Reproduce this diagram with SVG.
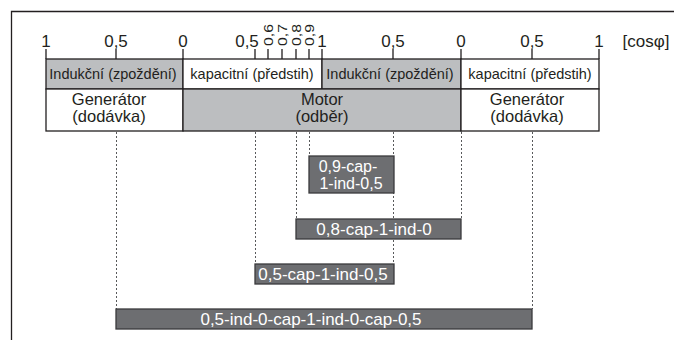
<svg xmlns="http://www.w3.org/2000/svg" width="674" height="340" viewBox="0 0 674 340">
<style>
text{font-family:"Liberation Sans",Arial,sans-serif;fill:#231f20}
.ax{font-size:17px;text-anchor:middle}
.sm{font-size:13px}
.r1{font-size:14.5px;text-anchor:middle}
.r2{font-size:16.5px;text-anchor:middle}
.cell{stroke:#231f20;stroke-width:1.3}
.g{fill:#bcbec0}
.w{fill:#fff}
.bx{fill:#6d6e71;stroke:#3a3a3c;stroke-width:1.3}
.bt{font-size:17px;text-anchor:middle;fill:#fff}
.bt2{font-size:16px;text-anchor:middle;fill:#fff}
.tk{stroke:#231f20;stroke-width:1.3}
.dl{stroke:#58595b;stroke-width:1;stroke-dasharray:2 2;fill:none}
</style>
<rect width="674" height="340" fill="#fff"/>
<path d="M11.5 340V11.5H674" fill="none" stroke="#231f20" stroke-width="1.3"/>
<g id="axis">
<path class="tk" d="M46 49V59M116 49V59M183 49V59M255 49V59M268 49V59M282 49V59M296 49V59M309 49V59M322 49V59M393 49V59M461 49V59M532 49V59M599 49V59"/>
<text class="ax" x="46" y="47">1</text>
<text class="ax" x="116" y="47">0,5</text>
<text class="ax" x="183" y="47">0</text>
<text class="ax" x="247" y="47">0,5</text>
<text class="sm" transform="translate(272.5,46) rotate(-90)" textLength="22" lengthAdjust="spacingAndGlyphs">0,6</text>
<text class="sm" transform="translate(286.5,46) rotate(-90)" textLength="22" lengthAdjust="spacingAndGlyphs">0,7</text>
<text class="sm" transform="translate(300.5,46) rotate(-90)" textLength="22" lengthAdjust="spacingAndGlyphs">0,8</text>
<text class="sm" transform="translate(313.5,46) rotate(-90)" textLength="22" lengthAdjust="spacingAndGlyphs">0,9</text>
<text class="ax" x="322" y="47">1</text>
<text class="ax" x="393" y="47">0,5</text>
<text class="ax" x="461" y="47">0</text>
<text class="ax" x="532" y="47">0,5</text>
<text class="ax" x="599" y="47">1</text>
<text class="ax" x="646" y="47">[cosφ]</text>
</g>
<g id="row1">
<rect class="cell g" x="46" y="59" width="137" height="30"/>
<rect class="cell w" x="183" y="59" width="139" height="30"/>
<rect class="cell g" x="322" y="59" width="139" height="30"/>
<rect class="cell w" x="461" y="59" width="138" height="30"/>
<text class="r1" x="113" y="79">Indukční (zpoždění)</text>
<text class="r1" x="252" y="79">kapacitní (předstih)</text>
<text class="r1" x="390" y="79">Indukční (zpoždění)</text>
<text class="r1" x="530" y="79">kapacitní (předstih)</text>
</g>
<g id="row2">
<rect class="cell w" x="46" y="89" width="137" height="42"/>
<rect class="cell g" x="183" y="89" width="278" height="42"/>
<rect class="cell w" x="461" y="89" width="138" height="42"/>
<text class="r2" x="109" y="105">Generátor</text>
<text class="r2" x="109" y="122">(dodávka)</text>
<text class="r2" x="322" y="105">Motor</text>
<text class="r2" x="322" y="122">(odběr)</text>
<text class="r2" x="527" y="105">Generátor</text>
<text class="r2" x="527" y="122">(dodávka)</text>
</g>
<g id="connectors">
<path class="dl" d="M116.5 132V309M255.5 132V264M296.5 132V219M309.5 132V156M393.5 132V264M461.5 132V219M532.5 132V309"/>
</g>
<g id="box1">
<rect class="bx" x="309" y="156" width="85" height="37"/>
<text class="bt2" x="348" y="172">0,9-cap-</text>
<text class="bt2" x="351" y="189">1-ind-0,5</text>
</g>
<g id="box2">
<rect class="bx" x="296" y="219" width="165" height="20"/>
<text class="bt" x="374" y="235">0,8-cap-1-ind-0</text>
</g>
<g id="box3">
<rect class="bx" x="255" y="264" width="139" height="20"/>
<text class="bt" x="323" y="280">0,5-cap-1-ind-0,5</text>
</g>
<g id="box4">
<rect class="bx" x="116" y="309" width="416" height="20"/>
<text class="bt" x="311" y="325">0,5-ind-0-cap-1-ind-0-cap-0,5</text>
</g>
</svg>
